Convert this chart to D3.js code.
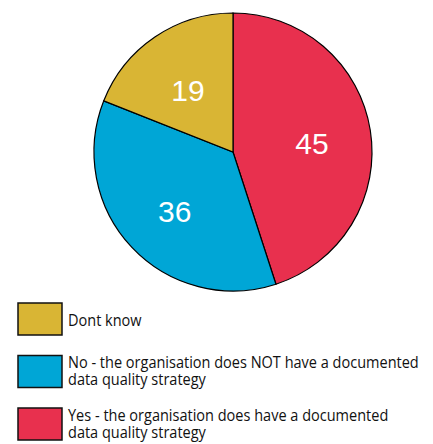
<!DOCTYPE html>
<html>
<head>
<meta charset="utf-8">
<script src="https://cdn.jsdelivr.net/npm/d3@7"></script>
<style>
  body { margin: 0; background: #fff; }
  svg { display: block; }
</style>
</head>
<body>
<div id="chart"></div>
<script>
// data
var categories = ["Yes", "No", "Dont know"];
var values = [45, 36, 19];
var colors = ["#e8304e", "#00a6d6", "#d9b534"];

// legend order is reversed from the pie order
var legendOrder = ["Dont know", "No", "Yes"];
var legendLabels = [
  ["Dont know"],
  ["No - the organisation does NOT have a documented", "data quality strategy"],
  ["Yes - the organisation does have a documented", "data quality strategy"]
];

var svgWidth = 433;
var svgHeight = 444;

var svg = d3.select("#chart")
  .append("svg")
  .attr("width", svgWidth)
  .attr("height", svgHeight);

var color = d3.scaleOrdinal().domain(categories).range(colors);

var radius = 139;
var pieGroup = svg.append("g")
  .attr("transform", "translate(233, 152)");

var pie = d3.pie().sort(null).value(d => d.value);
var arc = d3.arc().innerRadius(0).outerRadius(radius);
var labelArc = d3.arc().innerRadius(80).outerRadius(80);

var pieData = pie(categories.map((c, i) => ({ name: c, value: values[i] })));

pieGroup.selectAll("path")
  .data(pieData)
  .enter()
  .append("path")
  .attr("d", arc)
  .attr("fill", d => color(d.data.name))
  .attr("stroke", "#000")
  .attr("stroke-width", 1.2);

pieGroup.selectAll("text")
  .data(pieData)
  .enter()
  .append("text")
  .attr("transform", d => `translate(${labelArc.centroid(d)})`)
  .attr("dy", "0.5em")
  .attr("text-anchor", "middle")
  .attr("font-family", "Liberation Sans, Arial, sans-serif")
  .attr("font-size", 30)
  .attr("fill", "#fff")
  .text(d => d.data.value);

// legend
var legend = svg.append("g")
  .attr("font-family", "Open Sans, sans-serif")
  .attr("font-size", 16.5)
  .attr("fill", "#111");

var legendY = d3.scalePoint().domain(legendOrder).range([303, 408]);

var items = legend.selectAll("g")
  .data(legendOrder)
  .enter()
  .append("g")
  .attr("transform", d => `translate(18, ${legendY(d)})`);

items.append("rect")
  .attr("width", 44)
  .attr("height", 32)
  .attr("fill", d => color(d))
  .attr("stroke", "#111")
  .attr("stroke-width", 1.5);

// condensed a little to get close to the original narrow face
items.append("text")
  .attr("transform", "translate(50, 0) scale(0.88, 1)")
  .attr("y", (d, i) => legendLabels[i].length > 1 ? 12.5 : 23)
  .selectAll("tspan")
  .data((d, i) => legendLabels[i])
  .enter()
  .append("tspan")
  .attr("x", 0)
  .attr("dy", (d, i) => i ? 17.5 : 0)
  .text(d => d);
</script>
</body>
</html>
